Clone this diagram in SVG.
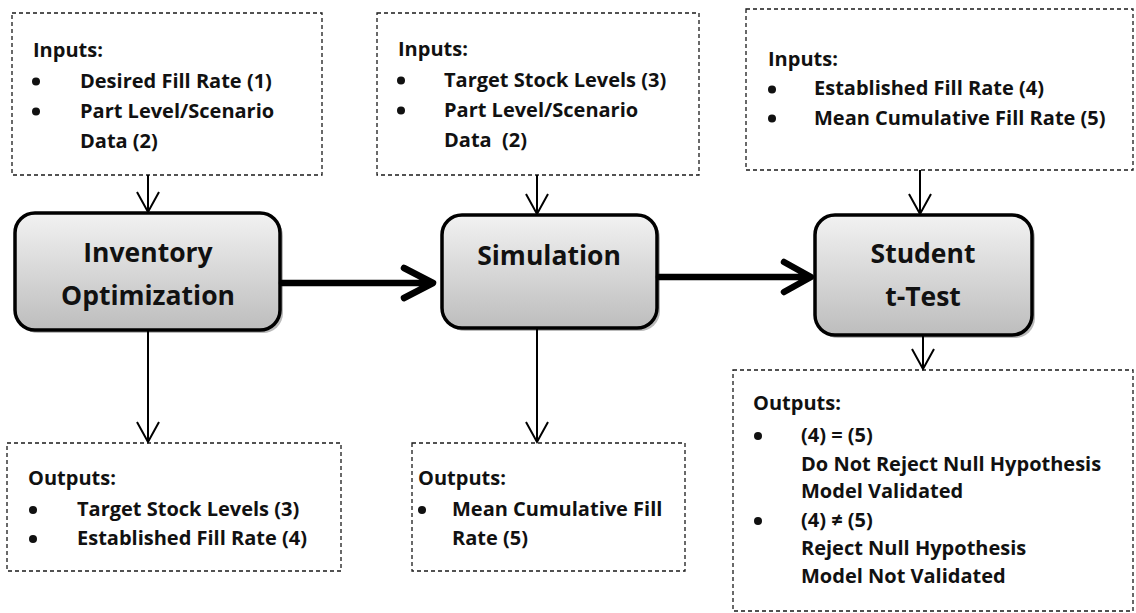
<svg xmlns="http://www.w3.org/2000/svg" width="1136" height="613" viewBox="0 0 1136 613">
  <style>
    .box { fill: #ffffff; stroke: #1a1a1a; stroke-width: 1.3; stroke-dasharray: 4 3; }
    .txt { font-family: "Open Sans", "Liberation Sans", sans-serif; font-weight: 700; font-size: 20px; fill: #111111; }
    .big { font-family: "Open Sans", "Liberation Sans", sans-serif; font-weight: 700; font-size: 26.5px; fill: #111111; text-anchor: middle; }
    .node { fill: url(#nodeFill); stroke: #000000; stroke-width: 3.5; }
    .shadow { fill: #8c8c8c; opacity: 0.6; }
    .thin { fill: none; stroke: #000000; stroke-width: 2; }
    .thick { fill: none; stroke: #000000; stroke-width: 6.5; stroke-linecap: round; stroke-linejoin: round; }
    .dot { fill: #111111; }
  </style>
  <defs>
    <linearGradient id="nodeFill" x1="0" y1="0" x2="0" y2="1">
      <stop offset="0" stop-color="#f2f2f2"/>
      <stop offset="1" stop-color="#bdbdbd"/>
    </linearGradient>
  </defs>

  <rect width="1136" height="613" fill="#ffffff"/>

  <!-- input boxes -->
  <g id="inputs-optimization">
    <rect class="box" x="12" y="13" width="310" height="162"/>
    <text class="txt" x="33" y="57">Inputs:</text>
    <circle class="dot" cx="36" cy="81.5" r="4"/>
    <text class="txt" x="80" y="88">Desired Fill Rate (1)</text>
    <circle class="dot" cx="36" cy="111.5" r="4"/>
    <text class="txt" x="80" y="118">Part Level/Scenario</text>
    <text class="txt" x="80" y="148">Data (2)</text>
  </g>

  <g id="inputs-simulation">
    <rect class="box" x="377" y="13" width="322" height="162"/>
    <text class="txt" x="398" y="56">Inputs:</text>
    <circle class="dot" cx="401" cy="80.5" r="4"/>
    <text class="txt" x="444" y="87">Target Stock Levels (3)</text>
    <circle class="dot" cx="401" cy="110.5" r="4"/>
    <text class="txt" x="444" y="117">Part Level/Scenario</text>
    <text class="txt" x="444" y="147" xml:space="preserve">Data  (2)</text>
  </g>

  <g id="inputs-ttest">
    <rect class="box" x="746" y="9" width="387" height="161"/>
    <text class="txt" x="768" y="66">Inputs:</text>
    <circle class="dot" cx="772" cy="89.5" r="4"/>
    <text class="txt" x="814" y="95">Established Fill Rate (4)</text>
    <circle class="dot" cx="772" cy="118.5" r="4"/>
    <text class="txt" x="814" y="125">Mean Cumulative Fill Rate (5)</text>
  </g>

  <!-- process nodes -->
  <g id="node-optimization">
    <rect class="shadow" x="18" y="216" width="265" height="117" rx="20"/>
    <rect class="node" x="15" y="213" width="265" height="117" rx="20"/>
    <text class="big" x="148" y="262">Inventory</text>
    <text class="big" x="148" y="305">Optimization</text>
  </g>

  <g id="node-simulation">
    <rect class="shadow" x="445" y="218" width="215" height="113" rx="20"/>
    <rect class="node" x="442" y="215" width="215" height="113" rx="20"/>
    <text class="big" x="549" y="265">Simulation</text>
  </g>

  <g id="node-ttest">
    <rect class="shadow" x="818" y="218" width="217" height="120" rx="20"/>
    <rect class="node" x="815" y="215" width="217" height="120" rx="20"/>
    <text class="big" x="923" y="263">Student</text>
    <text class="big" x="923" y="306">t-Test</text>
  </g>

  <!-- output boxes -->
  <g id="outputs-optimization">
    <rect class="box" x="7" y="443" width="334" height="128"/>
    <text class="txt" x="28" y="485">Outputs:</text>
    <circle class="dot" cx="33" cy="510" r="4"/>
    <text class="txt" x="77" y="516">Target Stock Levels (3)</text>
    <circle class="dot" cx="33" cy="539" r="4"/>
    <text class="txt" x="77" y="545">Established Fill Rate (4)</text>
  </g>

  <g id="outputs-simulation">
    <rect class="box" x="412" y="443" width="273" height="128"/>
    <text class="txt" x="418" y="485">Outputs:</text>
    <circle class="dot" cx="422" cy="510" r="4"/>
    <text class="txt" x="452" y="516">Mean Cumulative Fill</text>
    <text class="txt" x="452" y="545">Rate (5)</text>
  </g>

  <g id="outputs-ttest">
    <rect class="box" x="733" y="370" width="400" height="241"/>
    <text class="txt" x="753" y="410">Outputs:</text>
    <circle class="dot" cx="758" cy="436" r="4"/>
    <text class="txt" x="801" y="442">(4) = (5)</text>
    <text class="txt" x="801" y="471">Do Not Reject Null Hypothesis</text>
    <text class="txt" x="801" y="498">Model Validated</text>
    <circle class="dot" cx="758" cy="521" r="4"/>
    <text class="txt" x="801" y="527">(4) ≠ (5)</text>
    <text class="txt" x="801" y="555">Reject Null Hypothesis</text>
    <text class="txt" x="801" y="583">Model Not Validated</text>
  </g>

  <!-- connectors -->
  <g id="connectors">
    <!-- inputs into nodes -->
    <path class="thin" d="M148 175 V212 M137 192 L148 212 L159 192"/>
    <path class="thin" d="M537 175 V214 M526 194 L537 214 L548 194"/>
    <path class="thin" d="M920 170 V214 M909 194 L920 214 L931 194"/>
    <!-- nodes into outputs -->
    <path class="thin" d="M148 330 V442 M137 422 L148 442 L159 422"/>
    <path class="thin" d="M537 328 V442 M526 422 L537 442 L548 422"/>
    <path class="thin" d="M923 335 V369 M912 349 L923 369 L934 349"/>
    <!-- main flow -->
    <path class="thick" d="M282 283 H432 M404 268 L433 283 L404 298"/>
    <path class="thick" d="M659 277 H809 M784 262 L811 277 L784 292"/>
  </g>
</svg>
